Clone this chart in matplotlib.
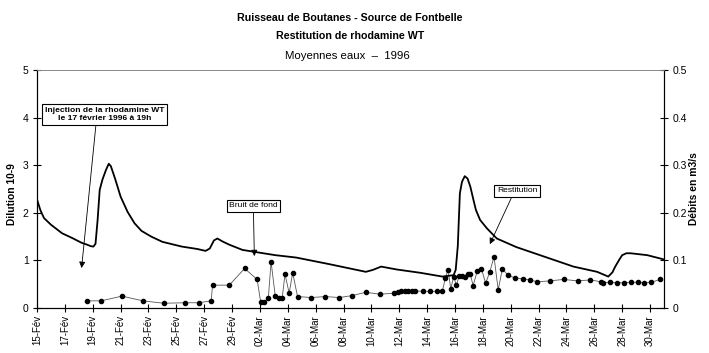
import matplotlib
matplotlib.use('Agg')
import matplotlib.pyplot as plt

plt.rcParams['font.family'] = ['Liberation Sans', 'DejaVu Sans']

title_lines = ["Ruisseau de Boutanes - Source de Fontbelle",
               "Restitution de rhodamine WT"]
subtitle = "Moyennes eaux  \u2013  1996"
left_label = "Dilution 10-9"
right_label = "D\u00e9bits en m3/s"

# x axis: days counted from 15 February 1996
x_tick_days = list(range(0, 45, 2))
x_tick_labels = ["15-F\u00e9v", "17-F\u00e9v", "19-F\u00e9v", "21-F\u00e9v", "23-F\u00e9v",
                 "25-F\u00e9v", "27-F\u00e9v", "29-F\u00e9v", "02-Mar", "04-Mar",
                 "06-Mar", "08-Mar", "10-Mar", "12-Mar", "14-Mar", "16-Mar",
                 "18-Mar", "20-Mar", "22-Mar", "24-Mar", "26-Mar", "28-Mar",
                 "30-Mar"]
left_ticks = [0, 1, 2, 3, 4, 5]
right_ticks = [0, 0.1, 0.2, 0.3, 0.4, 0.5]
right_tick_labels = ["0", "0.1", "0.2", "0.3", "0.4", "0.5"]

# discharge (m3/s)
flow_days = [0.0, 0.25, 0.5, 1.0, 1.8, 2.6, 3.2, 3.6, 3.85, 4.05, 4.2, 4.35,
             4.5, 4.7, 4.95, 5.15, 5.3, 5.6, 6.0, 6.5, 7.0, 7.5, 8.2, 9.0, 10.4,
             11.5, 12.1, 12.4, 12.7, 12.95, 13.3, 13.8, 14.75, 15.6, 17.1, 18.6,
             21.0, 23.6, 24.1, 24.7, 25.8, 27.5, 29.1, 29.9, 30.05, 30.2, 30.35,
             30.5, 30.7, 30.9, 31.1, 31.3, 31.5, 31.8, 32.3, 33.0, 34.4, 36.1,
             38.5, 40.2, 41.0, 41.3, 41.5, 41.8, 42.0, 42.3, 42.6, 43.8, 45.0]
flow_m3s = [0.228, 0.205, 0.189, 0.175, 0.157, 0.146, 0.137, 0.133, 0.130, 0.129,
            0.135, 0.185, 0.248, 0.270, 0.290, 0.303, 0.298, 0.272, 0.234, 0.202,
            0.178, 0.162, 0.150, 0.139, 0.129, 0.124, 0.120, 0.125, 0.142, 0.146,
            0.140, 0.133, 0.122, 0.118, 0.111, 0.106, 0.092, 0.076, 0.080, 0.087,
            0.081, 0.074, 0.066, 0.069, 0.080, 0.130, 0.241, 0.265, 0.277, 0.272,
            0.255, 0.230, 0.206, 0.185, 0.167, 0.146, 0.128, 0.111, 0.087, 0.076,
            0.066, 0.075, 0.087, 0.102, 0.111, 0.115, 0.115, 0.111, 0.102]

# rhodamine dilution (10-9)
rhod_days = [3.6, 4.6, 6.1, 7.6, 9.1, 10.6, 11.6, 12.5, 12.6, 13.8, 14.9, 15.8,
             16.05, 16.3, 16.6, 16.8, 17.1, 17.35, 17.6, 17.8, 18.1, 18.35, 18.7,
             19.7, 20.7, 21.7, 22.6, 23.6, 24.6, 25.6, 25.9, 26.1, 26.4, 26.6,
             26.9, 27.1, 27.7, 28.2, 28.7, 29.1, 29.3, 29.5, 29.7, 29.9, 30.1,
             30.3, 30.5, 30.7, 30.9, 31.1, 31.3, 31.6, 31.9, 32.2, 32.5, 32.8,
             33.1, 33.4, 33.8, 34.3, 34.9, 35.4, 35.9, 36.8, 37.8, 38.8, 39.7,
             40.5, 40.6, 41.1, 41.6, 42.1, 42.6, 43.1, 43.6, 44.1, 44.7]
rhod_dilution = [0.15, 0.15, 0.25, 0.15, 0.10, 0.11, 0.11, 0.15, 0.48, 0.48, 0.83,
                 0.60, 0.13, 0.12, 0.20, 0.97, 0.25, 0.20, 0.22, 0.71, 0.31, 0.74,
                 0.24, 0.22, 0.24, 0.22, 0.26, 0.33, 0.29, 0.31, 0.34, 0.35, 0.35,
                 0.36, 0.36, 0.36, 0.35, 0.35, 0.35, 0.36, 0.62, 0.80, 0.40, 0.66,
                 0.48, 0.68, 0.68, 0.66, 0.72, 0.71, 0.47, 0.78, 0.82, 0.52, 0.76,
                 1.08, 0.38, 0.82, 0.69, 0.63, 0.61, 0.59, 0.55, 0.57, 0.60, 0.57,
                 0.59, 0.55, 0.53, 0.54, 0.53, 0.53, 0.54, 0.54, 0.53, 0.54, 0.60]

W, H = 709, 353
fig = plt.figure(figsize=(W / 100, H / 100), dpi=100)
fig.patch.set_facecolor('white')
ax = fig.add_axes([37 / W, (H - 308) / H, (664 - 37) / W, (308 - 70) / H])
ax2 = ax.twinx()

ax.plot(rhod_days, rhod_dilution, color='#555555', lw=0.6, marker='o',
        ms=3.0, mfc='black', mec='black', zorder=3)
ax2.plot(flow_days, flow_m3s, color='black', lw=1.3, zorder=2)

ax.set_xlim(0, 45)
ax.set_ylim(0, 5)
ax2.set_ylim(0, 0.5)

ax.set_xticks(x_tick_days)
ax.set_xticklabels(x_tick_labels, rotation=90, fontsize=7)
ax.set_yticks(left_ticks)
ax.set_yticklabels([str(v) for v in left_ticks], fontsize=7.5)
ax2.set_yticks(right_ticks)
ax2.set_yticklabels(right_tick_labels, fontsize=7.5)

for a in (ax, ax2):
    a.tick_params(direction='inout', length=6, width=0.8, color='black', pad=3)
    for s in a.spines.values():
        s.set_linewidth(0.8)
        s.set_color('black')
    a.spines['top'].set_color('#888888')
    a.spines['top'].set_linewidth(0.6)
ax.tick_params(axis='x', pad=2)

fig.text(350 / W, 1 - 18 / H, title_lines[0], ha='center', va='center',
         fontsize=7.7, fontweight='bold')
fig.text(350 / W, 1 - 36 / H, title_lines[1], ha='center', va='center',
         fontsize=7.7, fontweight='bold')
fig.text(347 / W, 1 - 56 / H, subtitle, ha='center', va='center', fontsize=8.2)
fig.text(12 / W, 1 - 194 / H, left_label, ha='center', va='center', rotation=90,
         fontsize=7.4, fontweight='bold')
fig.text(694 / W, 1 - 189 / H, right_label, ha='center', va='center', rotation=90,
         fontsize=7.4, fontweight='bold')

arrow = dict(arrowstyle='-|>', color='black', lw=0.6, mutation_scale=9,
             shrinkA=0, shrinkB=0)
box = dict(boxstyle='square,pad=0.3', fc='white', ec='black', lw=0.8)

ax2.annotate("Injection de la rhodamine WT\nle 17 f\u00e9vrier 1996 \u00e0 19h",
             xy=(3.2, 0.84), xycoords=ax.transData,
             xytext=(4.85, 4.07), textcoords=ax.transData,
             ha='center', va='center', fontsize=6.1, fontweight='bold',
             linespacing=1.3, bbox=box,
             arrowprops=dict(arrow, relpos=(0.43, 0.0)), zorder=5)
ax2.annotate("Bruit de fond", xy=(15.6, 1.09), xycoords=ax.transData,
             xytext=(15.53, 2.15), textcoords=ax.transData,
             ha='center', va='center', fontsize=6.1, bbox=box,
             arrowprops=dict(arrow, relpos=(0.5, 0.0)), zorder=5)
ax2.annotate("Restitution", xy=(32.5, 1.34), xycoords=ax.transData,
             xytext=(34.45, 2.46), textcoords=ax.transData,
             ha='center', va='center', fontsize=6.1, bbox=box,
             arrowprops=dict(arrow, relpos=(0.4, 0.0)), zorder=5)

fig.savefig('out.png', dpi=100)
